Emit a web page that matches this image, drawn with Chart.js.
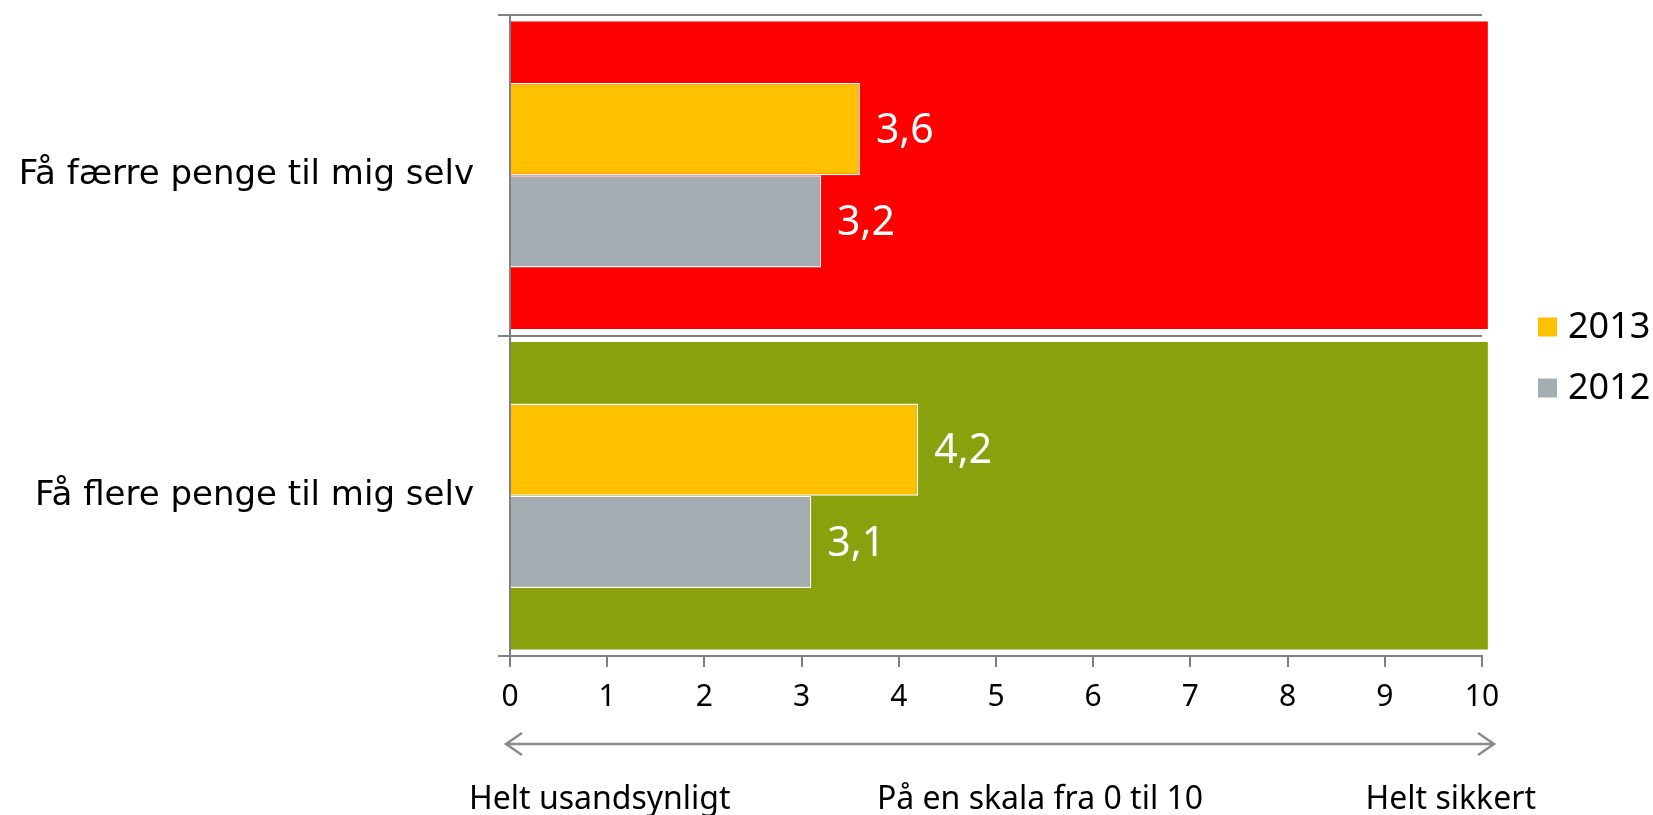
<!DOCTYPE html>
<html>
<head>
<meta charset="utf-8">
<script src="https://cdn.jsdelivr.net/npm/chart.js@4.4.0/dist/chart.umd.min.js"></script>
<style>
  body { margin: 0; background: #fff; }
</style>
</head>
<body>
<canvas id="chart" width="1653" height="815"></canvas>
<script>
// DATA
const categories = ["Få færre penge til mig selv", "Få flere penge til mig selv"];
const seriesNames = ["2013", "2012"];
const values2013 = [3.6, 4.2];
const values2012 = [3.2, 3.1];
const bandEnds = [10.06, 10.06]; // red / green background bands
const xTickValues = [0, 1, 2, 3, 4, 5, 6, 7, 8, 9, 10];
const scaleCaptions = ["Helt usandsynligt", "På en skala fra 0 til 10", "Helt sikkert"];

const FONT = "'Noto Sans', sans-serif";
const LABEL_FONT = "'DejaVu Sans', sans-serif";
const GREY_LINE = "#808080";

// white value labels next to the bars
const valueLabels = {
  id: "valueLabels",
  afterDatasetsDraw(chart) {
    const ctx = chart.ctx;
    ctx.save();
    ctx.font = "41px " + FONT;
    ctx.fillStyle = "#fff";
    ctx.textBaseline = "middle";
    ctx.textAlign = "left";
    chart.data.datasets.forEach((ds, i) => {
      if (ds.isBand) return;
      chart.getDatasetMeta(i).data.forEach((bar, j) => {
        const txt = ds.data[j].toLocaleString("da-DK", { minimumFractionDigits: 1 });
        ctx.fillText(txt, bar.x + 16, bar.y + 2);
      });
    });
    ctx.restore();
  },
};

// arrow + captions under the x axis, and the legend on the right
const extras = {
  id: "extras",
  afterDraw(chart) {
    const ctx = chart.ctx;
    const x = chart.scales.x;
    const area = chart.chartArea;
    const x0 = x.getPixelForValue(0) - 4;
    const x1 = x.getPixelForValue(10) + 12;
    const ay = area.bottom + 88;

    ctx.save();
    ctx.strokeStyle = "#8c8c8c";
    ctx.lineWidth = 2.5;
    ctx.beginPath();
    ctx.moveTo(x0, ay);
    ctx.lineTo(x1, ay);
    ctx.moveTo(x0 + 16, ay - 11);
    ctx.lineTo(x0, ay);
    ctx.lineTo(x0 + 16, ay + 11);
    ctx.moveTo(x1 - 16, ay - 11);
    ctx.lineTo(x1, ay);
    ctx.lineTo(x1 - 16, ay + 11);
    ctx.stroke();

    ctx.fillStyle = "#000";
    ctx.font = "32px " + FONT;
    ctx.textBaseline = "middle";
    const cy = area.bottom + 144;
    ctx.textAlign = "left";
    ctx.fillText(scaleCaptions[0], x0 - 37, cy);
    ctx.textAlign = "center";
    ctx.fillText(scaleCaptions[1], x.getPixelForValue(5) + 44, cy);
    ctx.textAlign = "right";
    ctx.fillText(scaleCaptions[2], x1 + 42, cy);

    // legend
    ctx.font = "36px " + FONT;
    ctx.textAlign = "left";
    const lx = area.right + 56;
    chart.data.datasets.filter(d => !d.isBand).forEach((ds, i) => {
      const ly = area.top + 312 + i * 61;
      ctx.fillStyle = ds.backgroundColor;
      ctx.fillRect(lx, ly - 9.5, 19, 19);
      ctx.fillStyle = "#000";
      ctx.fillText(ds.label, lx + 30, ly + 1);
    });
    ctx.restore();
  },
};

const config = {
  type: "bar",
  data: {
    labels: categories,
    datasets: [
      {
        label: seriesNames[0],
        data: values2013,
        backgroundColor: "#FFC000",
        borderColor: "#fff",
        borderWidth: 1.5,
        categoryPercentage: 0.575,
        barPercentage: 1,
        order: 1,
      },
      {
        label: seriesNames[1],
        data: values2012,
        backgroundColor: "#A4ADB2",
        borderColor: "#fff",
        borderWidth: 1.5,
        categoryPercentage: 0.575,
        barPercentage: 1,
        order: 1,
      },
      {
        label: "band",
        isBand: true,
        data: bandEnds,
        backgroundColor: ["#FF0000", "#88A10D"],
        borderWidth: 0,
        grouped: false,
        categoryPercentage: 1,
        barPercentage: 0.96,
        clip: false,
        order: 2,
      },
    ],
  },
  options: {
    indexAxis: "y",
    responsive: false,
    animation: false,
    layout: { padding: { top: 15, right: 171, left: 0, bottom: 0 } },
    scales: {
      x: {
        min: 0,
        max: 10,
        z: 1,
        afterBuildTicks: (scale) => {
          scale.ticks = xTickValues.map(v => ({ value: v }));
        },
        afterFit: (scale) => {
          scale.height = 159;
          scale.paddingLeft = 0;
          scale.paddingRight = 0;
        },
        grid: {
          drawOnChartArea: false,
          tickLength: 11,
          color: GREY_LINE,
          lineWidth: 2,
        },
        border: { color: GREY_LINE, width: 2 },
        ticks: {
          color: "#000",
          font: { family: FONT, size: 30 },
          padding: 12,
          maxRotation: 0,
        },
      },
      y: {
        z: 1,
        afterFit: (scale) => {
          scale.width = 510;
          scale.paddingTop = 0;
          scale.paddingBottom = 0;
        },
        grid: {
          offset: true,
          tickLength: 12,
          color: GREY_LINE,
          lineWidth: 2,
        },
        border: { color: GREY_LINE, width: 2 },
        ticks: {
          color: "#000",
          font: { family: LABEL_FONT, size: 34 },
          padding: 24,
        },
      },
    },
    plugins: {
      legend: { display: false },
      tooltip: { enabled: false },
    },
  },
  plugins: [valueLabels, extras],
};

const chart = new Chart(document.getElementById("chart"), config);
</script>
</body>
</html>
